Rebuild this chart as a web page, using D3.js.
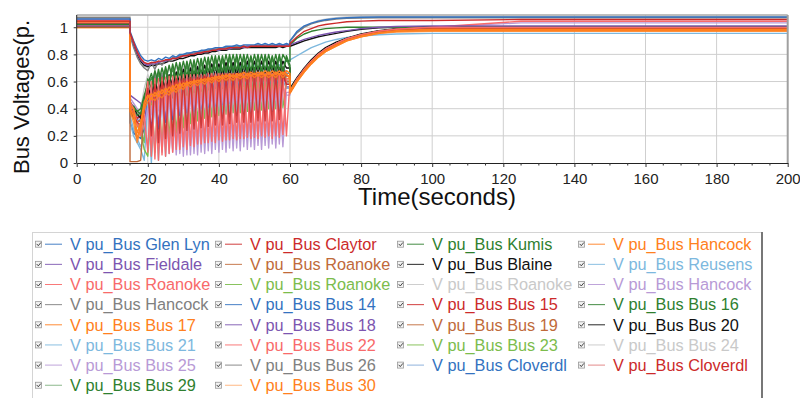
<!DOCTYPE html>
<html><head><meta charset="utf-8">
<script src="https://cdn.jsdelivr.net/npm/d3@7"></script>
<style>body{margin:0;background:#fff;overflow:hidden}svg{display:block;font-family:"Liberation Sans",Arial,sans-serif}</style>
</head><body><svg id="c" width="800" height="398"></svg>
<script>
// ---- data ----
const times = [0,14.99,15,16,17,18,19,20,21,22,23,24,25,26,27,28,29,30,31,32,33,34,35,36,37,38,39,40,41,42,43,44,45,46,47,48,49,50,51,52,53,54,55,56,57,58,59,59.99,60,62,64,66,68,70,73,76,80,85,90,100,125,200];
const names = ["Glen Lyn","Claytor","Kumis","Hancock","Fieldale","Roanoke","Blaine","Reusens","Roanoke","Roanoke","Roanoke","Hancock","Hancock","Bus 14","Bus 15","Bus 16","Bus 17","Bus 18","Bus 19","Bus 20","Bus 21","Bus 22","Bus 23","Bus 24","Bus 25","Bus 26","Cloverdl","Cloverdl","Bus 29","Bus 30"];
const palette = ["#3372c0","#cc2a2a","#2f7f2f","#ff8020","#7c55b0","#c06a3a","#111111","#7db8de","#f86a6a","#7cbc4c","#c9c9c9","#b89ad6","#808080"];
const xTicks = [0,20,40,60,80,100,120,140,160,180,200];
const yTicks = [0,0.2,0.4,0.6,0.8,1];

const v01=[1.06,1.06,.97,.90,.84,.79,.76,.75,.76,.75,.77,.76,.78,.77,.79,.78,.80,.80,.81,.81,.82,.82,.83,.83,.84,.84,.85,.85,.85,.86,.86,.86,.87,.86,.87,.87,.87,.87,.88,.87,.88,.87,.88,.87,.88,.87,.88,.87,.90,.97,1.01,1.03,1.045,1.055,1.065,1.07,1.073,1.075,1.075,1.075,1.075,1.075];
const v02=[1.045,1.045,.96,.89,.82,.77,.74,.73,.74,.74,.75,.75,.76,.76,.77,.77,.78,.79,.79,.80,.80,.81,.81,.82,.82,.83,.83,.84,.84,.84,.85,.85,.85,.85,.86,.85,.86,.86,.86,.86,.86,.86,.86,.86,.86,.86,.86,.86,.88,.93,.97,.99,1.01,1.02,1.03,1.04,1.045,1.05,1.05,1.05,1.057,1.057];
const v03=[1.02,1.02,.40,.42,.38,.36,.45,.62,.55,.68,.58,.70,.60,.72,.62,.74,.63,.75,.64,.76,.65,.77,.66,.78,.67,.79,.68,.79,.67,.80,.68,.80,.68,.80,.69,.80,.68,.80,.69,.80,.68,.80,.69,.80,.68,.80,.75,.75,.87,.92,.95,.97,.98,.99,.995,1.0,1.0,1.0,1.0,1.0,1.0,1.0];
const v04=[1.012,1.012,.42,.40,.22,.30,.45,.50,.47,.52,.49,.54,.51,.56,.53,.58,.55,.59,.57,.60,.59,.61,.60,.62,.61,.63,.62,.64,.62,.65,.63,.65,.63,.66,.63,.66,.64,.66,.64,.67,.64,.67,.64,.67,.65,.67,.65,.64,.53,.61,.68,.74,.79,.83,.87,.905,.935,.96,.975,.985,.985,.985];
const v05=[1.01,1.01,.96,.88,.81,.76,.73,.72,.73,.73,.74,.75,.75,.76,.77,.77,.78,.79,.79,.80,.80,.81,.81,.82,.82,.83,.83,.83,.84,.84,.84,.85,.85,.85,.85,.86,.86,.86,.86,.86,.86,.86,.86,.86,.87,.86,.87,.87,.87,.89,.91,.925,.94,.95,.965,.975,.99,1.0,1.005,1.01,1.01,1.01];
const v06=[1.01,1.01,.01,.01,.01,.02,.40,.55,.48,.58,.50,.60,.52,.61,.53,.62,.54,.63,.55,.63,.56,.64,.57,.64,.57,.65,.58,.65,.58,.65,.58,.66,.59,.66,.59,.66,.59,.66,.59,.66,.59,.66,.59,.66,.60,.66,.60,.60,.52,.61,.68,.74,.79,.83,.87,.905,.935,.96,.975,.985,.985,.985];
const v07=[1.002,1.002,.95,.87,.80,.75,.72,.71,.72,.72,.73,.73,.74,.75,.75,.76,.77,.77,.78,.79,.79,.80,.80,.81,.81,.82,.82,.83,.83,.83,.84,.84,.84,.84,.85,.85,.85,.85,.85,.85,.85,.85,.85,.85,.86,.85,.86,.86,.86,.88,.90,.915,.93,.94,.955,.97,.985,.995,1.0,1.003,1.003,1.003];
const v08=[1.01,1.01,.35,.25,.18,.12,.20,.50,.10,.55,.12,.58,.20,.60,.30,.62,.40,.64,.45,.65,.50,.66,.55,.67,.58,.68,.60,.69,.62,.70,.64,.71,.65,.72,.66,.72,.68,.73,.69,.73,.70,.74,.71,.74,.72,.74,.75,.75,.76,.79,.82,.85,.87,.89,.91,.925,.935,.945,.95,.955,.955,.955];
const v09=[1.05,1.05,.45,.40,.30,.20,.40,.60,.05,.62,.02,.63,.05,.64,.08,.64,.10,.65,.10,.65,.12,.65,.14,.65,.15,.66,.15,.66,.16,.66,.17,.66,.17,.66,.18,.66,.18,.66,.18,.66,.19,.66,.18,.66,.19,.66,.20,.60,.53,.62,.69,.75,.80,.84,.88,.915,.945,.97,.985,1.0,1.044,1.044];
const v10=[1.045,1.045,.40,.35,.30,.25,.15,.50,.05,.55,.10,.58,.15,.60,.20,.61,.25,.62,.28,.63,.30,.64,.32,.64,.34,.65,.35,.65,.36,.66,.37,.66,.38,.66,.38,.67,.39,.67,.40,.67,.40,.67,.41,.67,.41,.67,.62,.62,.54,.62,.69,.75,.80,.84,.88,.915,.945,.97,.985,1.0,1.0,1.0];
const v11=[1.08,1.08,.95,.86,.79,.74,.71,.70,.72,.71,.73,.74,.75,.76,.77,.77,.78,.79,.80,.80,.81,.81,.82,.82,.83,.83,.84,.84,.84,.85,.85,.85,.85,.86,.86,.86,.86,.86,.86,.87,.86,.87,.86,.87,.86,.87,.86,.86,.89,.96,1.0,1.03,1.05,1.06,1.07,1.075,1.078,1.08,1.08,1.08,1.08,1.08];
const v12=[1.057,1.057,.45,.42,.35,.30,.28,.40,.15,.45,.12,.48,.10,.50,.08,.52,.07,.52,.06,.53,.07,.54,.08,.54,.09,.55,.10,.55,.10,.55,.11,.56,.11,.56,.12,.56,.12,.56,.13,.56,.13,.56,.14,.56,.14,.56,.50,.50,.53,.62,.69,.75,.80,.84,.88,.915,.945,.97,.985,1.0,1.032,1.032];
const v13=[1.07,1.07,.94,.85,.78,.73,.70,.68,.74,.69,.75,.72,.76,.75,.78,.77,.79,.80,.80,.81,.81,.82,.82,.83,.83,.84,.84,.84,.85,.85,.85,.86,.86,.86,.86,.86,.86,.86,.87,.86,.87,.86,.87,.86,.87,.86,.87,.87,.90,.96,1.0,1.025,1.04,1.05,1.06,1.065,1.068,1.07,1.07,1.07,1.07,1.07];
const v14=[1.042,1.042,.30,.22,.20,.18,.25,.50,.20,.55,.25,.57,.30,.58,.32,.59,.35,.60,.37,.61,.38,.62,.40,.62,.41,.63,.42,.63,.43,.64,.44,.64,.45,.64,.46,.65,.46,.65,.47,.65,.48,.65,.48,.65,.49,.65,.58,.58,.53,.62,.69,.75,.80,.84,.88,.915,.945,.97,.985,1.0,1.0,1.0];
const v15=[1.038,1.038,.42,.37,.33,.35,.45,.56,.48,.60,.50,.62,.52,.63,.54,.64,.55,.65,.56,.66,.57,.66,.58,.67,.58,.67,.59,.68,.60,.68,.60,.68,.61,.69,.61,.69,.61,.69,.62,.69,.62,.69,.62,.70,.62,.70,.64,.64,.53,.62,.69,.75,.80,.84,.88,.915,.945,.97,.985,.995,.995,.995];
const v16=[1.045,1.045,.45,.40,.38,.40,.50,.58,.66,.56,.69,.58,.71,.60,.73,.61,.74,.62,.75,.63,.76,.64,.77,.65,.78,.66,.79,.66,.79,.67,.80,.67,.80,.67,.80,.68,.79,.68,.80,.67,.80,.68,.79,.68,.80,.67,.79,.72,.54,.62,.69,.75,.80,.84,.88,.915,.945,.97,.985,1.0,1.0,1.0];
const v17=[1.04,1.04,.40,.35,.18,.28,.42,.48,.51,.49,.53,.51,.55,.52,.57,.54,.59,.56,.60,.58,.61,.59,.62,.60,.63,.61,.64,.62,.65,.63,.66,.63,.66,.64,.67,.64,.67,.65,.67,.65,.68,.65,.68,.65,.68,.65,.68,.66,.52,.60,.67,.73,.78,.82,.86,.90,.93,.955,.97,.975,.975,.975];
const v18=[1.028,1.028,.50,.48,.46,.44,.30,.45,.25,.55,.28,.58,.32,.59,.35,.60,.38,.61,.40,.62,.42,.62,.43,.63,.44,.63,.45,.64,.46,.64,.47,.64,.47,.65,.48,.65,.48,.65,.49,.65,.49,.66,.50,.66,.50,.66,.56,.56,.52,.61,.68,.74,.79,.83,.87,.905,.935,.96,.975,.99,.99,.99];
const v19=[1.026,1.026,.38,.33,.30,.32,.42,.52,.46,.56,.48,.58,.50,.60,.52,.61,.53,.62,.54,.63,.55,.63,.56,.64,.56,.64,.57,.64,.57,.65,.58,.65,.58,.65,.58,.65,.58,.66,.58,.66,.59,.66,.59,.66,.59,.66,.60,.60,.52,.61,.68,.74,.79,.83,.87,.905,.935,.96,.975,.985,.985,.985];
const v20=[1.03,1.03,.45,.40,.36,.33,.45,.55,.50,.60,.52,.63,.55,.65,.57,.67,.59,.69,.60,.70,.61,.71,.62,.72,.63,.73,.64,.73,.64,.74,.65,.74,.65,.74,.65,.75,.65,.75,.66,.75,.66,.75,.66,.75,.66,.75,.70,.70,.55,.63,.70,.76,.81,.85,.89,.92,.95,.975,.99,1.003,1.003,1.003];
const v21=[1.033,1.033,.30,.20,.15,.10,.02,.45,.00,.50,.02,.52,.05,.54,.10,.55,.15,.56,.20,.57,.25,.58,.28,.58,.30,.59,.32,.59,.33,.60,.34,.60,.35,.60,.36,.60,.37,.60,.37,.61,.38,.61,.38,.61,.39,.61,.55,.55,.52,.61,.68,.74,.79,.83,.87,.905,.935,.96,.975,.985,.985,.985];
const v22=[1.033,1.033,.42,.36,.28,.25,.35,.08,.60,.03,.62,.06,.63,.07,.64,.10,.64,.12,.65,.13,.65,.14,.65,.15,.66,.16,.66,.17,.66,.17,.66,.18,.66,.18,.66,.19,.66,.19,.66,.20,.66,.20,.66,.20,.66,.21,.62,.62,.53,.62,.69,.75,.80,.84,.88,.915,.945,.97,.985,1.0,1.0,1.0];
const v23=[1.027,1.027,.38,.33,.28,.22,.10,.05,.52,.08,.56,.12,.59,.18,.60,.22,.61,.26,.62,.29,.63,.31,.63,.33,.64,.34,.64,.35,.65,.36,.65,.37,.65,.37,.66,.38,.66,.39,.66,.39,.66,.40,.66,.40,.67,.41,.60,.60,.53,.62,.69,.75,.80,.84,.88,.915,.945,.97,.985,.995,.995,.995];
const v24=[1.022,1.022,.42,.38,.35,.40,.55,.65,.58,.68,.60,.70,.62,.70,.63,.71,.64,.71,.64,.72,.65,.72,.66,.72,.66,.73,.67,.73,.67,.73,.68,.73,.68,.74,.68,.74,.68,.74,.69,.74,.69,.74,.69,.74,.69,.74,.70,.70,.54,.62,.69,.75,.80,.84,.88,.915,.945,.97,.985,1.0,1.0,1.0];
const v25=[1.019,1.019,.48,.44,.40,.35,.30,.12,.42,.10,.46,.08,.49,.07,.50,.06,.51,.05,.52,.06,.53,.06,.53,.07,.54,.07,.54,.08,.55,.08,.55,.09,.55,.09,.55,.10,.56,.10,.56,.10,.56,.11,.56,.11,.56,.12,.52,.52,.52,.61,.68,.74,.79,.83,.87,.905,.935,.96,.975,.99,.99,.99];
const v26=[1.0,1.0,.40,.36,.33,.35,.45,.60,.50,.65,.48,.66,.50,.64,.48,.65,.52,.66,.50,.67,.52,.68,.53,.68,.54,.69,.55,.69,.55,.70,.56,.70,.56,.70,.57,.70,.57,.70,.57,.71,.57,.71,.58,.71,.58,.71,.60,.60,.53,.62,.69,.75,.80,.84,.88,.915,.945,.97,.985,.99,.99,.99];
const v27=[1.026,1.026,.40,.36,.32,.30,.40,.55,.45,.60,.48,.62,.50,.63,.52,.64,.54,.65,.55,.66,.56,.67,.57,.67,.58,.68,.58,.68,.59,.69,.59,.69,.60,.69,.60,.70,.61,.70,.61,.70,.61,.70,.62,.70,.62,.71,.66,.66,.54,.62,.69,.75,.80,.84,.88,.915,.945,.97,.985,1.0,1.0,1.0];
const v28=[1.011,1.011,.40,.35,.30,.28,.38,.55,.20,.58,.15,.60,.18,.61,.20,.62,.22,.62,.24,.63,.25,.63,.26,.64,.27,.64,.28,.64,.28,.64,.29,.65,.30,.65,.30,.65,.30,.65,.31,.65,.31,.65,.31,.65,.32,.65,.58,.58,.52,.61,.68,.74,.79,.83,.87,.905,.935,.96,.975,.99,.99,.99];
const v29=[1.006,1.006,.42,.38,.35,.37,.48,.56,.63,.54,.66,.56,.68,.58,.70,.59,.71,.60,.72,.61,.73,.62,.74,.63,.75,.64,.76,.64,.76,.65,.77,.65,.77,.65,.77,.66,.77,.66,.77,.66,.78,.66,.77,.66,.78,.66,.77,.70,.52,.61,.68,.74,.79,.83,.87,.905,.935,.96,.975,.995,.995,.995];
const v30=[.995,.995,.38,.30,.15,.25,.40,.45,.48,.46,.50,.48,.52,.50,.54,.52,.56,.54,.58,.56,.59,.57,.60,.58,.61,.59,.62,.60,.63,.61,.63,.61,.64,.62,.64,.62,.65,.63,.65,.63,.65,.63,.65,.63,.66,.63,.66,.61,.51,.60,.67,.73,.78,.82,.86,.90,.93,.955,.965,.97,.97,.97];
const seriesValues=[v01,v02,v03,v04,v05,v06,v07,v08,v09,v10,v11,v12,v13,v14,v15,v16,v17,v18,v19,v20,v21,v22,v23,v24,v25,v26,v27,v28,v29,v30];
// drawing order (indices into seriesValues): low oscillators, reds, middle band, upper group
const drawOrder=[7,9,10,13,17,20,22,23,11,24,26,25,18,5,14,6,19,12,28,2,15,8,21,27,29,16,3,4,0,1];

// ---- chart ----
const svg = d3.select("#c");
const L=76.7,R=787.7,T=15,B=163;
const x = d3.scaleLinear().domain([0,200]).range([L,R]);
const y = d3.scaleLinear().domain([0,1.09]).range([B,T]);

svg.append("defs").append("clipPath").attr("id","clip")
  .append("rect").attr("x",L).attr("y",T).attr("width",R-L).attr("height",B-T);

// grid
const grid = svg.append("g");
grid.selectAll("line.gx").data(xTicks.filter(d=>d>0&&d<200)).join("line")
  .attr("x1",d=>x(d)).attr("x2",d=>x(d)).attr("y1",T).attr("y2",B)
  .attr("stroke","#cfcfcf").attr("stroke-width",1);
grid.selectAll("line.gy").data(yTicks.filter(d=>d>0)).join("line")
  .attr("y1",d=>y(d)).attr("y2",d=>y(d)).attr("x1",L).attr("x2",R)
  .attr("stroke","#cfcfcf").attr("stroke-width",1);

// lines
const line = d3.line().x((d,i)=>x(times[i])).y(d=>y(d));
const lg = svg.append("g").attr("clip-path","url(#clip)");
drawOrder.forEach(i=>{
  const vals=seriesValues[i];
  lg.append("path").attr("d",line(vals)).attr("fill","none")
    .attr("stroke",palette[i%13]).attr("stroke-width",1.4)
    .attr("stroke-linejoin","round")
    .attr("stroke-opacity", i>=26?0.85:1);
});

// frame
svg.append("line").attr("x1",L).attr("x2",R).attr("y1",T).attr("y2",T).attr("stroke","#a8a8a8").attr("stroke-width",1.5);
svg.append("line").attr("x1",R).attr("x2",R).attr("y1",T).attr("y2",B).attr("stroke","#a0a0a0").attr("stroke-width",2);

// axes
const minorX=[5,10,15,25,30,35,45,50,55,65,70,75,85,90,95,105,110,115,125,130,135,145,150,155,165,170,175,185,190,195];
const xa = svg.append("g").attr("transform",`translate(0,${B})`)
  .call(d3.axisBottom(x).tickValues(xTicks).tickSize(4).tickSizeOuter(0).tickPadding(6));
xa.append("g").selectAll("line").data(minorX).join("line")
  .attr("x1",d=>x(d)).attr("x2",d=>x(d)).attr("y1",0).attr("y2",2.5).attr("stroke","#333");
const ya = svg.append("g").attr("transform",`translate(${L},0)`)
  .call(d3.axisLeft(y).tickValues(yTicks).tickFormat(d3.format("~g")).tickSize(3).tickSizeOuter(0).tickPadding(5.5));
[xa,ya].forEach(a=>{
  a.select(".domain").attr("stroke","#222");
  a.selectAll(".tick line").attr("stroke","#333");
  a.selectAll("text").attr("font-size",15).attr("fill","#222").attr("font-family",'"Liberation Sans",Arial,sans-serif');
});
ya.select(".domain").attr("d",`M0,${T}V${B}`);

// axis titles
svg.append("text").attr("x",437).attr("y",205).attr("text-anchor","middle")
  .attr("font-size",24).attr("fill","#111").text("Time(seconds)");
svg.append("text").attr("transform","translate(29,97) rotate(-90)").attr("text-anchor","middle")
  .attr("font-size",22).attr("fill","#111").text("Bus Voltages(p.");

// legend
const leg = svg.append("g");
leg.append("rect").attr("x",32.5).attr("y",232.5).attr("width",729.5).attr("height",200)
  .attr("fill","#fff").attr("stroke","#d4d4d4");
leg.append("line").attr("x1",762).attr("x2",762).attr("y1",232).attr("y2",398).attr("stroke","#777").attr("stroke-width",2);
const colX=[70,250,432,613];
names.forEach((n,i)=>{
  const r=Math.floor(i/4), c=i%4;
  const tx=colX[c], by=250+r*20.15, cy=by-5.8;
  const g=leg.append("g");
  g.append("rect").attr("x",tx-34.5).attr("y",cy-3).attr("width",6).attr("height",6)
    .attr("fill","#f2f2f2").attr("stroke","#999").attr("stroke-width",0.8);
  g.append("path").attr("d",`M${tx-33.3},${cy-0.3} l1.6,1.8 l2.6,-3.2`).attr("fill","none").attr("stroke","#333").attr("stroke-width",0.9);
  g.append("line").attr("x1",tx-25).attr("x2",tx-8).attr("y1",cy).attr("y2",cy)
    .attr("stroke",palette[i%13]).attr("stroke-width",1).attr("stroke-opacity",i>=26?0.55:0.9);
  g.append("text").attr("x",tx).attr("y",by).attr("font-size",16.3).attr("fill",palette[i%13])
    .text("V pu_Bus "+n);
});
</script></body></html>
